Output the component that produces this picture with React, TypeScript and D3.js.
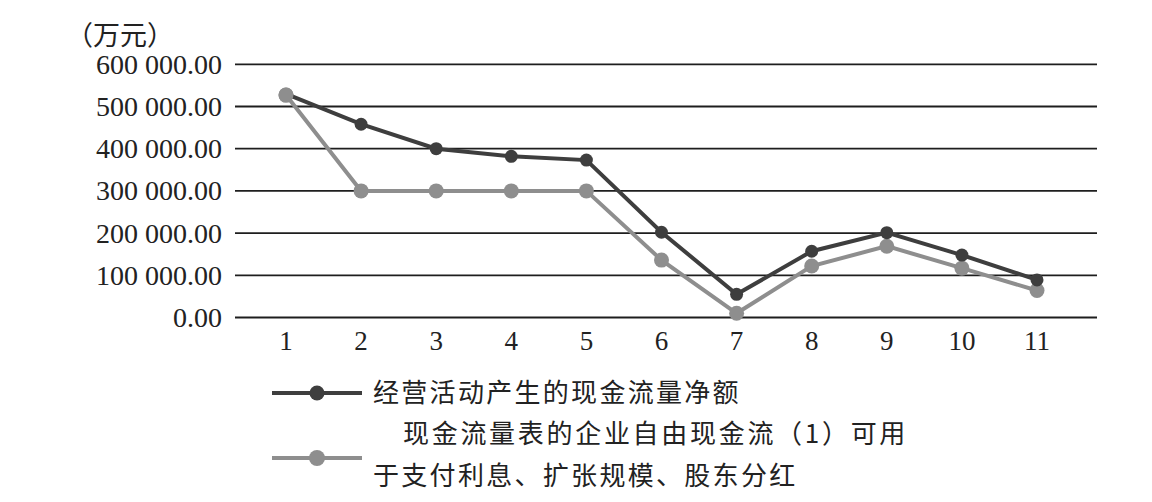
import React from "react";
import * as d3 from "d3";

const categories: string[] = ["1", "2", "3", "4", "5", "6", "7", "8", "9", "10", "11"];
const operatingCashFlow: number[] = [530000, 458000, 400000, 382000, 373000, 202000, 55000, 157000, 201000, 148000, 89000];
const freeCashFlow: number[] = [527000, 300000, 300000, 300000, 300000, 136000, 10000, 122000, 169000, 117000, 64000];
const yTicks: number[] = [0, 100000, 200000, 300000, 400000, 500000, 600000];
const unitLabel = "（万元）";
const seriesNames: string[] = ["经营活动产生的现金流量净额", "现金流量表的企业自由现金流（1）可用", "于支付利息、扩张规模、股东分红"];

const W = 1152;
const H = 502;
const DARK = "#3e3e3e";
const GRAY = "#8e8e8e";
const SERIF = "'Liberation Serif', 'DejaVu Serif', serif";
const CJK = "'Noto Sans CJK SC', sans-serif";

function fmt(v: number): string {
  const s = d3.format(".2f")(v);
  const [intPart, dec] = s.split(".");
  const grouped = intPart.replace(/\B(?=(\d{3})+(?!\d))/g, " ");
  return grouped + "." + dec;
}

export default function App() {
  const x = d3.scalePoint<string>().domain(categories).range([286, 1037]);
  const y = d3.scaleLinear().domain([0, 600000]).range([317.5, 64.3]);
  const gridX0 = 235;
  const gridX1 = 1097;

  const line = d3
    .line<number>()
    .x((_, i) => x(categories[i]) as number)
    .y((d) => y(d));

  return (
    <svg width={W} height={H} style={{ position: "absolute", left: 0, top: 0, background: "#fff" }}>
      <rect x={0} y={0} width={W} height={H} fill="#fff" />
      {/* unit label */}
      <text x={66} y={45} fontFamily={CJK} fontSize={27} fill="#222">
        {unitLabel}
      </text>
      {/* gridlines and y labels */}
      {yTicks.map((t) => (
        <g key={t}>
          <line x1={gridX0} x2={gridX1} y1={y(t)} y2={y(t)} stroke="#1e1e1e" strokeWidth={1.8} />
          <text
            x={222}
            y={y(t) + 3}
            textAnchor="end"
            dominantBaseline="middle"
            fontFamily={SERIF}
            fontSize={28}
            fill="#222"
          >
            {fmt(t)}
          </text>
        </g>
      ))}
      {/* x labels */}
      {categories.map((c) => (
        <text key={c} x={x(c)} y={350} textAnchor="middle" fontFamily={SERIF} fontSize={27} fill="#222">
          {c}
        </text>
      ))}
      {/* gray series */}
      <path d={line(freeCashFlow) || ""} fill="none" stroke={GRAY} strokeWidth={4} />
      {freeCashFlow.map((v, i) => (
        <circle key={"g" + i} cx={x(categories[i])} cy={y(v)} r={7.5} fill={GRAY} />
      ))}
      {/* dark series */}
      <path d={line(operatingCashFlow) || ""} fill="none" stroke={DARK} strokeWidth={4} />
      {operatingCashFlow.map((v, i) => (
        <circle key={"d" + i} cx={x(categories[i])} cy={y(v)} r={i === 0 ? 0 : 6.5} fill={DARK} />
      ))}
      {/* redraw first gray marker on top (overlap at point 1) */}
      <circle cx={x(categories[0])} cy={y(freeCashFlow[0])} r={7.5} fill={GRAY} />
      {/* legend */}
      <line x1={272} x2={362} y1={393} y2={393} stroke={DARK} strokeWidth={4} />
      <circle cx={317} cy={393} r={7.5} fill={DARK} />
      <text x={373} y={395} dominantBaseline="middle" fontFamily={CJK} fontSize={26} letterSpacing={2.3} fill="#222">
        {seriesNames[0]}
      </text>
      <line x1={272} x2={362} y1={458} y2={458} stroke={GRAY} strokeWidth={4} />
      <circle cx={317} cy={458} r={8} fill={GRAY} />
      <text x={403} y={436} dominantBaseline="middle" fontFamily={CJK} fontSize={26} letterSpacing={2.7} fill="#222">
        {seriesNames[1]}
      </text>
      <text x={373} y={478} dominantBaseline="middle" fontFamily={CJK} fontSize={26} letterSpacing={2.3} fill="#222">
        {seriesNames[2]}
      </text>
    </svg>
  );
}
